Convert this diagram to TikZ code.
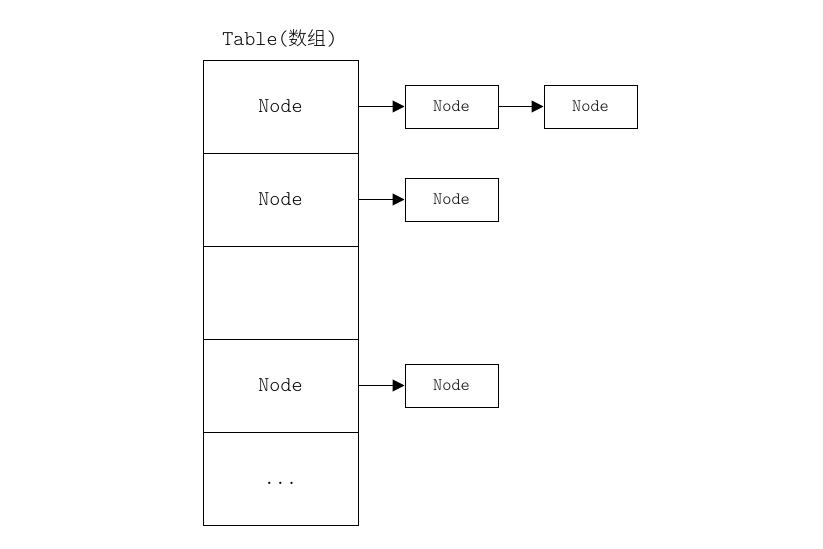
\documentclass[tikz,border=0pt]{standalone}
\usepackage{fontspec}
\setmonofont{Latin Modern Mono Light}
\newfontfamily\cjk{Noto Sans CJK SC Light}
\usetikzlibrary{arrows.meta}
\begin{document}
\begin{tikzpicture}[x=1pt,y=-1pt,
  cell/.style={draw,line width=1pt,minimum width=155pt,minimum height=93pt,inner sep=0pt,text height=12.5pt,text depth=0pt,font=\fontsize{21}{21}\ttfamily},
  item/.style={draw,line width=1pt,minimum width=93pt,minimum height=43pt,inner sep=0pt,font=\fontsize{17.5}{17.5}\ttfamily},
  link/.style={line width=1pt,-{Triangle[length=12pt,width=12pt]}}]
\useasboundingbox (0,0) rectangle (823,549);
\node[font=\fontsize{21}{21}\ttfamily] (title) at (280,38) {Table({\cjk\fontsize{19}{19}\selectfont 数组})};
\node[cell] (c1) at (280.5,106.5) {Node};
\node[cell] (c2) at (280.5,199.5) {Node};
\node[cell] (c3) at (280.5,292.5) {};
\node[cell] (c4) at (280.5,385.5) {Node};
\node[cell] (c5) at (280.5,478.5) {...};
\node[item] (n11) at (451.5,106.5) {Node};
\node[item] (n12) at (590.5,106.5) {Node};
\node[item] (n21) at (451.5,199.5) {Node};
\node[item] (n41) at (451.5,385.5) {Node};
\draw[link] (c1.east) -- (n11.west);
\draw[link] (n11.east) -- (n12.west);
\draw[link] (c2.east) -- (n21.west);
\draw[link] (c4.east) -- (n41.west);
\end{tikzpicture}
\end{document}
